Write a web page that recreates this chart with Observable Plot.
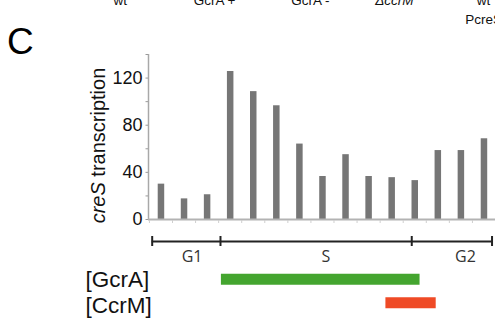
<!DOCTYPE html>
<html>
<head>
<meta charset="utf-8">
<script src="https://cdn.jsdelivr.net/npm/d3@7"></script>
<script src="https://cdn.jsdelivr.net/npm/@observablehq/plot@0.6"></script>
<style>
  html, body { margin: 0; padding: 0; background: #fff; overflow: hidden; }
</style>
</head>
<body>
<div id="chart"></div>
<script>
// ---- data ----
const samples = [1, 2, 3, 4, 5, 6, 7, 8, 9, 10, 11, 12, 13, 14, 15];
const creS = [30, 17.5, 21, 125.5, 108.5, 96.5, 64, 36.5, 55, 36.5, 35.5, 33, 58.5, 58.5, 68.5];
const yTicks = [0, 40, 80, 120];
const yMinorTicks = [0, 20, 40, 60, 80, 100, 120, 140];
const phaseNames = ["G1", "S", "G2"];
const phaseStart = [0.62, 3.58, 11.87];
const phaseEnd = [3.58, 11.87, 15.35];
const phaseLabelAt = [2.35, 8.15, 14.2];
const proteinNames = ["[GcrA]", "[CcrM]"];
const proteinStart = [3.62, 10.75];
const proteinEnd = [12.23, 12.93];
const proteinColors = ["#44a52f", "#ef4a26"];
const topLabels = ["wt", "GcrA +", "GcrA -", "ΔccrM", "wt\nPcreS"];
const topLabelAt = [-0.76, 3.32, 7.48, 11.12, 14.98];
const topLabelItalic = [false, false, false, true, false];

const bars = samples.map((s, i) => ({sample: s, value: creS[i]}));
const phases = phaseNames.map((n, i) => ({name: n, start: phaseStart[i], end: phaseEnd[i], label: phaseLabelAt[i]}));
const boundaries = [...phaseStart, phaseEnd[phaseEnd.length - 1]];
const proteins = proteinNames.map((n, i) => ({name: n, start: proteinStart[i], end: proteinEnd[i], color: proteinColors[i]}));
const tops = topLabels.map((t, i) => ({text: t, x: topLabelAt[i], italic: topLabelItalic[i]}));
const baseTicks = samples.map(s => s - 0.5).concat([samples[samples.length - 1] + 0.5]);

const ARIAL = "Liberation Sans, Arial, Helvetica, sans-serif";

const proteinLabelDy = [60, 86];
const proteinBarDy = [59.8, 83.2];

const chart = Plot.plot({
  width: 495,
  height: 327,
  marginLeft: 148,
  marginRight: 0,
  marginTop: 54,
  marginBottom: 108,
  style: {background: "#fff", overflow: "visible"},
  x: {type: "linear", domain: [0.46, 15.5], axis: null},
  y: {domain: [0, 140], axis: null},
  marks: [
    // bars
    Plot.ruleX(bars, {x: "sample", y1: 0, y2: "value", stroke: "#767676", strokeWidth: 6.5}),
    // y axis line
    Plot.ruleX([0.46], {y1: 0, y2: 140, stroke: "#a8a8a8", strokeWidth: 1.5}),
    // minor y ticks
    Plot.axisY({ticks: yMinorTicks, tickSize: 2.5, text: null, label: null, stroke: "#9a9a9a", anchor: "left"}),
    // y tick labels
    Plot.axisY({ticks: yTicks, tickSize: 0, tickPadding: 6, fontSize: 18, fontFamily: ARIAL, fill: "#111", anchor: "left", label: null}),
    // y title
    Plot.text(["creS transcription"], {frameAnchor: "left", textAnchor: "middle", dx: -50, dy: 8.5, rotate: -90, fontSize: 20, fontFamily: ARIAL, fill: "#111"}),
    // baseline
    Plot.ruleY([0], {stroke: "#b3b3b3", strokeWidth: 2.2}),
    // baseline minor ticks
    Plot.ruleX(baseTicks, {x: d => d, y1: 0, y2: 0, insetTop: 1, insetBottom: -4, stroke: "#cfcfcf", strokeWidth: 1}),
    // phase ruler
    Plot.ruleY(phases, {x1: "start", x2: "end", y: 0, dy: 22, stroke: "#222", strokeWidth: 2}),
    Plot.ruleX(boundaries, {x: d => d, y1: 0, y2: 0, insetTop: -5, insetBottom: -5, dy: 22, stroke: "#222", strokeWidth: 2}),
    Plot.text(phases, {x: "label", y: 0, dy: 37, text: "name", fontSize: 16, fontFamily: "Open Sans, sans-serif", fill: "#333"}),
    // protein presence bars and labels
    ...proteins.flatMap((p, i) => [
      Plot.ruleY([p], {x1: "start", x2: "end", y: 0, dy: proteinBarDy[i], stroke: p.color, strokeWidth: 11}),
      Plot.text([p], {text: "name", frameAnchor: "left", y: 0, dx: -63, dy: proteinLabelDy[i], textAnchor: "start", fontSize: 22.5, fontFamily: ARIAL, fill: "#111"})
    ]),
    // panel letter
    Plot.text(["C"], {frameAnchor: "top-left", dx: -141.5, dy: -26.5, textAnchor: "start", fontSize: 37, fontFamily: ARIAL, fill: "#000"}),
    // clipped labels from the panel above
    Plot.text(tops.filter(d => !d.italic), {x: "x", text: "text", frameAnchor: "top", dy: -62.9, lineAnchor: "top", lineHeight: 1.4, fontSize: 13.5, fontFamily: ARIAL, fill: "#111"}),
    Plot.text(tops.filter(d => d.italic), {x: "x", text: "text", frameAnchor: "top", dy: -59.1, lineAnchor: "top", fontSize: 13.5, fontStyle: "italic", fontFamily: ARIAL, fill: "#111"})
  ]
});

// italicise "creS" in the y title
chart.querySelectorAll("text").forEach(t => {
  if (t.textContent === "creS transcription") {
    t.textContent = "";
    const ns = "http://www.w3.org/2000/svg";
    const it = document.createElementNS(ns, "tspan");
    it.setAttribute("font-style", "italic");
    it.textContent = "creS";
    t.appendChild(it);
    t.appendChild(document.createTextNode(" transcription"));
  }
});

document.getElementById("chart").appendChild(chart);
</script>
</body>
</html>
